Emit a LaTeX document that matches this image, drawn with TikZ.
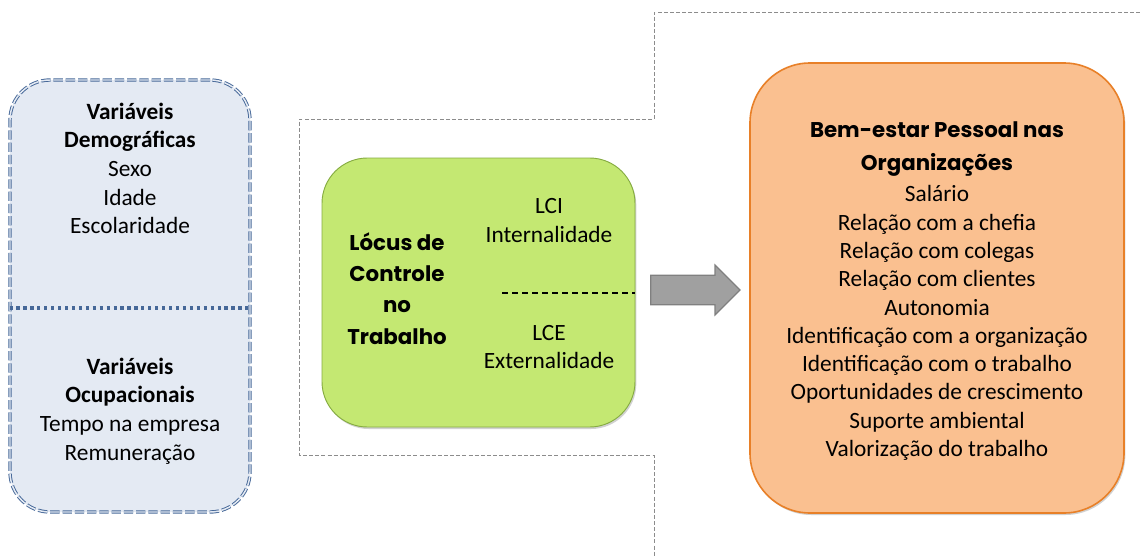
\documentclass[tikz,border=0pt]{standalone}
\usepackage{fontspec}
\setmainfont{Carlito}
\newfontfamily\gothic{Poppins}
\usetikzlibrary{shapes.arrows,shadows,positioning}
\definecolor{varfill}{RGB}{228,234,243}
\definecolor{varline}{RGB}{70,104,152}
\definecolor{locfill}{RGB}{196,232,114}
\definecolor{locline}{RGB}{134,172,66}
\definecolor{bemfill}{RGB}{250,192,144}
\definecolor{bemline}{RGB}{232,128,40}
\definecolor{seta}{RGB}{160,160,160}
\definecolor{setaline}{RGB}{128,128,128}

\begin{document}
\begin{tikzpicture}[x=0.75pt,y=-0.75pt,
    txt/.style={font=\fontsize{17.5}{21.5}\selectfont, align=center, inner sep=0pt},
    gtitle/.style={font=\gothic\bfseries\fontsize{16}{23.5}\selectfont, align=center, inner sep=0pt},
    boxshadow/.style={drop shadow={shadow xshift=1pt, shadow yshift=-1.5pt, opacity=0.3, fill=black!60}}
]
\useasboundingbox (0,0) rectangle (1140,557);

% Dashed frame around the locus block
\draw[gray!90, line width=0.6pt, dash pattern=on 3pt off 1.6pt]
    (1140,12) -- (654,12) -- (654,119) -- (299,119) -- (299,455) -- (654,455) -- (654,557);

% Variables box
\node[draw=varline, fill=varfill, rounded corners=30pt, line width=0.7pt,
      double=varfill, double distance=1.1pt, dash pattern=on 7pt off 2.2pt,
      minimum width=180pt, minimum height=324pt] (vars) at (130,296) {};
\draw[varline, line width=2.4pt, dash pattern=on 2.4pt off 2.8pt]
    (vars.west |- 0,308) -- (vars.east |- 0,308);
\node[txt] (demog) at (130,168.5) {\textbf{Variáveis}\\\textbf{Demográficas}\\Sexo\\Idade\\Escolaridade};
\node[txt] (ocup) at (130,411) {\textbf{Variáveis}\\\textbf{Ocupacionais}\\Tempo na empresa\\Remuneração};

% Locus of control box
\node[draw=locline, fill=locfill, rounded corners=34pt, line width=0.7pt, boxshadow,
      minimum width=234.75pt, minimum height=201.75pt] (locus) at (478.5,292.5) {};
\node[gtitle] (loctitle) at (397,288.5) {Lócus de\\Controle\\no\\Trabalho};
\node[txt] (lci) at (549,220.5) {LCI\\Internalidade};
\node[txt] (lce) at (549,347) {LCE\\Externalidade};
\coordinate (divider) at (502,293);
\draw[line width=0.8pt, dash pattern=on 4.5pt off 3pt] (divider) -- (locus.east |- divider);

% Arrow to well-being
\node[single arrow, draw=setaline, fill=seta, line width=0.9pt,
      minimum height=67pt, minimum width=37.5pt,
      inner xsep=0pt, inner ysep=9.75pt] (flow) at (688,290) {};

% Well-being box
\node[draw=bemline, fill=bemfill, rounded corners=45pt, line width=1.2pt, boxshadow,
      minimum width=280.5pt, minimum height=337.5pt] (bem) at (937,288) {};
\node[gtitle, font=\gothic\bfseries\fontsize{16}{24.5}\selectfont] (bemtitle) at (937,149) {Bem-estar Pessoal nas\\Organizações};
\node[txt, font=\fontsize{17.5}{21.2}\selectfont] (itens) at (937,323) {Salário\\Relação com a chefia\\Relação com colegas\\Relação com clientes\\Autonomia\\Identificação com a organização\\Identificação com o trabalho\\Oportunidades de crescimento\\Suporte ambiental\\Valorização do trabalho};

\end{tikzpicture}
\end{document}
